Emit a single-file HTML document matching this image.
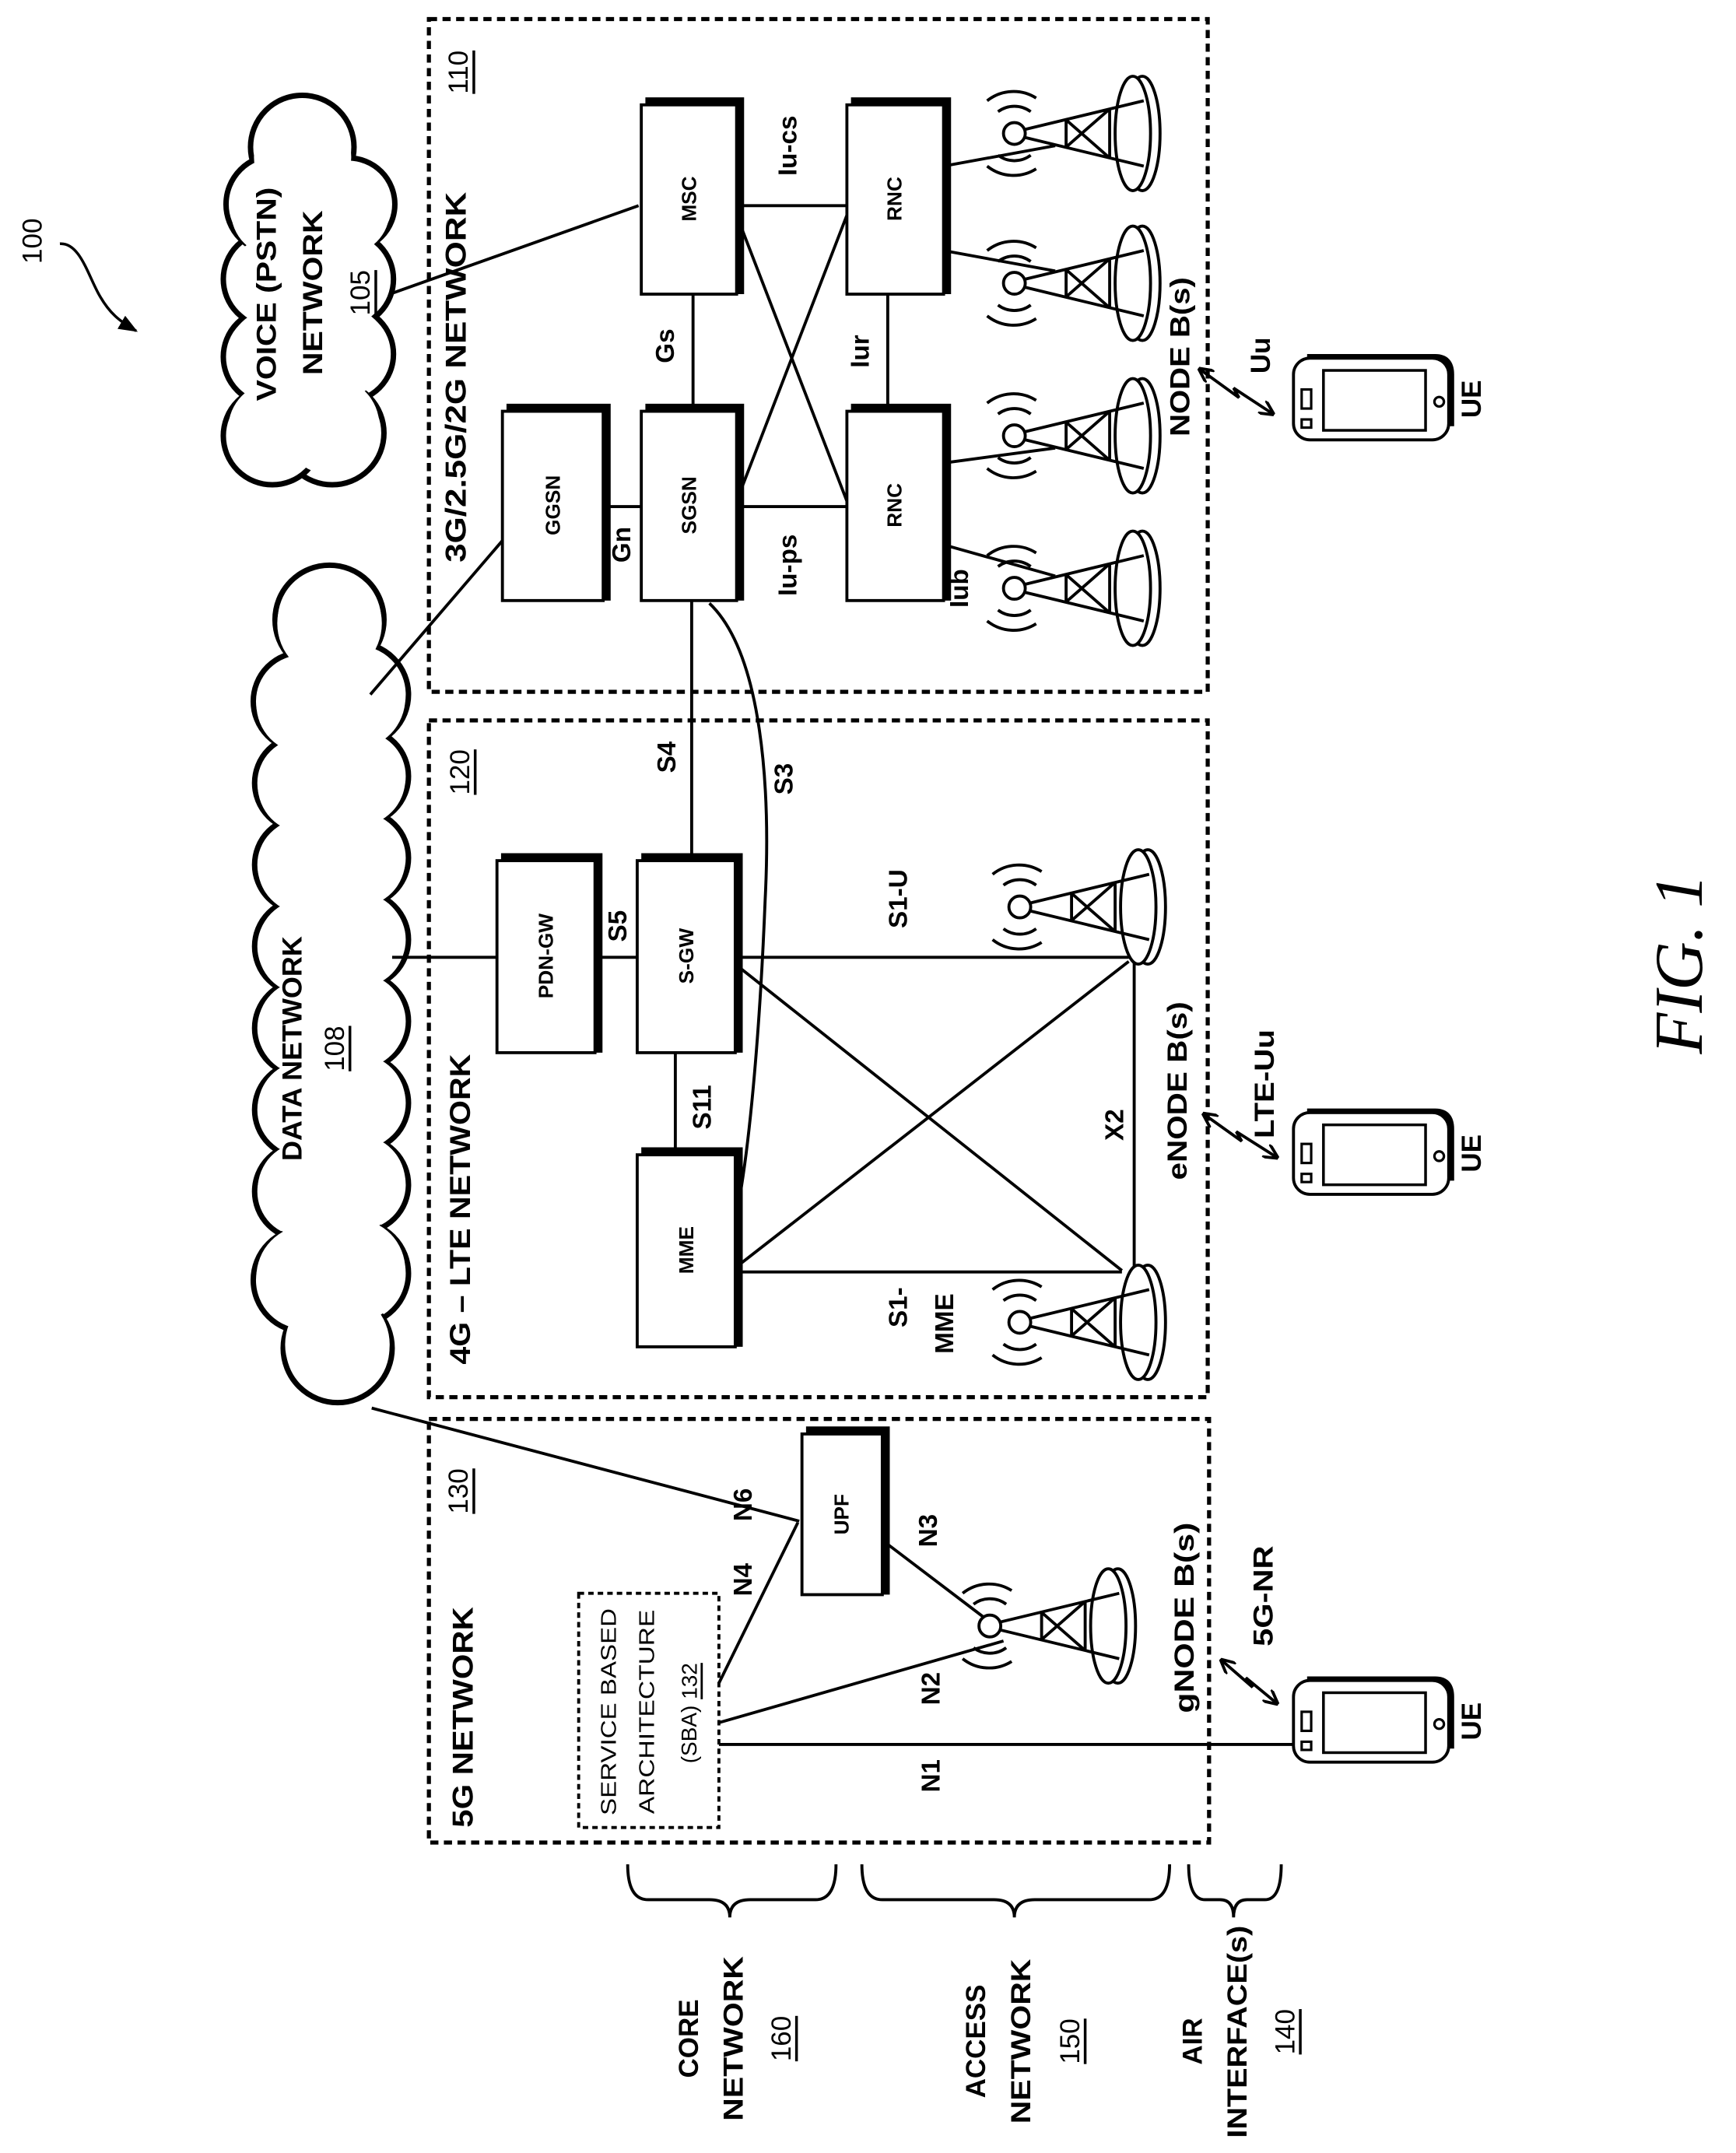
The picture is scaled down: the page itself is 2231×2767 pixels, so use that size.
<!DOCTYPE html>
<html><head><meta charset="utf-8"><style>
html,body{margin:0;padding:0;background:#fff;}
svg{display:block;}
text{font-family:"Liberation Sans",sans-serif;fill:#000;}
.b{font-weight:bold;}
</style></head><body>
<svg width="2231" height="2767" viewBox="0 0 1275 1581" preserveAspectRatio="none" xmlns="http://www.w3.org/2000/svg">
<defs>
<marker id="ah" viewBox="0 0 10 10" refX="9" refY="5" markerWidth="5" markerHeight="5" orient="auto-start-reverse"><path d="M0,0 L10,5 L0,10" fill="none" stroke="#000" stroke-width="2"/></marker>
<marker id="ah2" viewBox="0 0 10 10" refX="9" refY="5" markerWidth="7" markerHeight="7" orient="auto"><path d="M0,1 L10,5 L0,9 z" fill="#000"/></marker>
<g id="tw">
 <ellipse cx="94" cy="0" rx="13" ry="42" fill="#fff" stroke="#000" stroke-width="2.2"/>
 <ellipse cx="87" cy="0" rx="13" ry="42" fill="#fff" stroke="#000" stroke-width="2.2"/>
 <circle cx="0" cy="0" r="8" fill="#fff" stroke="#000" stroke-width="2.2"/>
 <path d="M8,-3 L95,-24 M8,3 L95,24 M38,-10 L38,10 M70,-18 L70,18 M38,-10 L70,18 M38,10 L70,-18" stroke="#000" stroke-width="2.2" fill="none"/>
 <path d="M-12,-16 A20,20 0 0 1 12,-16 M-20,-24 A31,31 0 0 1 16,-26 M-12,16 A20,20 0 0 0 12,16 M-20,24 A31,31 0 0 0 16,26" stroke="#000" stroke-width="2.2" fill="none"/>
</g>
<g id="ph">
 <rect x="0" y="0" width="114" height="60" rx="12" fill="#fff" stroke="#000" stroke-width="2.2"/>
 <path d="M10,-1 L104,-1 Q116,-1 116,12 L116,50" fill="none" stroke="#000" stroke-width="4"/>
 <rect x="22" y="9" width="75" height="44" fill="none" stroke="#000" stroke-width="2"/>
 <circle cx="107" cy="32" r="3.5" fill="none" stroke="#000" stroke-width="1.8"/>
 <rect x="6" y="23" width="7" height="14" fill="none" stroke="#000" stroke-width="1.8"/>
 <rect x="6" y="45" width="7" height="6" fill="none" stroke="#000" stroke-width="1.8"/>
</g>
<g id="vc">
<circle cx="222" cy="108" r="38"/><circle cx="256" cy="150" r="34"/><circle cx="254" cy="205" r="35"/><circle cx="254" cy="260" r="35"/><circle cx="244" cy="318" r="38"/><circle cx="200" cy="320" r="36"/><circle cx="199" cy="262" r="35"/><circle cx="199" cy="205" r="35"/><circle cx="202" cy="150" r="36"/>
</g>
<g id="dc">
<circle cx="242" cy="455" r="40"/><circle cx="262" cy="510" r="38"/><circle cx="222" cy="515" r="36"/>
<circle cx="265" cy="570" r="35"/><circle cx="265" cy="630" r="35"/><circle cx="265" cy="690" r="35"/><circle cx="265" cy="750" r="35"/><circle cx="265" cy="810" r="35"/><circle cx="265" cy="870" r="35"/><circle cx="262" cy="935" r="38"/><circle cx="248" cy="990" r="40"/>
<circle cx="222" cy="575" r="35"/><circle cx="222" cy="635" r="35"/><circle cx="222" cy="695" r="35"/><circle cx="222" cy="755" r="35"/><circle cx="222" cy="815" r="35"/><circle cx="222" cy="875" r="35"/><circle cx="224" cy="940" r="38"/>
</g>
</defs>

<!-- dashed network boxes -->
<g fill="none" stroke="#000" stroke-width="3" stroke-dasharray="6 4">
<rect x="315" y="14" width="572" height="494"/>
<rect x="315" y="529" width="572" height="497"/>
<rect x="315" y="1042" width="573" height="311"/>
<rect x="425" y="1170" width="103" height="172" stroke-width="2.2" stroke-dasharray="4 3"/>
</g>

<!-- clouds -->
<g stroke="#000" stroke-width="4" fill="#fff"><use href="#vc"/><use href="#dc"/></g>
<g fill="#fff" stroke="none">
<g transform="translate(226,230) scale(0.94) translate(-226,-230)"><use href="#vc"/></g>
<g transform="translate(243,725) scale(0.96,0.99) translate(-243,-725)"><use href="#dc"/></g>
<ellipse cx="227" cy="225" rx="42" ry="110"/>
<ellipse cx="243" cy="725" rx="34" ry="275"/>
</g>

<!-- connectors -->
<g stroke="#000" stroke-width="2.2" fill="none">
<line x1="469" y1="151" x2="289" y2="215"/>
<line x1="369" y1="397" x2="272" y2="510"/>
<line x1="541" y1="151" x2="622" y2="151"/>
<line x1="541" y1="372" x2="622" y2="372"/>
<line x1="541" y1="158" x2="622" y2="368"/>
<line x1="541" y1="368" x2="622" y2="158"/>
<line x1="509" y1="216" x2="509" y2="302"/>
<line x1="652" y1="216" x2="652" y2="302"/>
<line x1="443" y1="372" x2="471" y2="372"/>
<line x1="693" y1="122" x2="775" y2="107"/>
<line x1="693" y1="184" x2="775" y2="199"/>
<line x1="693" y1="340" x2="775" y2="329"/>
<line x1="693" y1="400" x2="775" y2="423"/>
<line x1="508" y1="441" x2="508" y2="632"/>
<path d="M521,443 C560,480 566,580 562,660 C558,760 550,850 540,896"/>
<line x1="288" y1="703" x2="365" y2="703"/>
<line x1="437" y1="703" x2="468" y2="703"/>
<line x1="496" y1="773" x2="496" y2="848"/>
<line x1="540" y1="703" x2="829" y2="703"/>
<line x1="540" y1="708" x2="824" y2="933"/>
<line x1="540" y1="931" x2="829" y2="706"/>
<line x1="540" y1="934" x2="824" y2="934"/>
<line x1="833" y1="703" x2="833" y2="934"/>
<line x1="273" y1="1034" x2="587" y2="1117"/>
<line x1="528" y1="1236" x2="586" y2="1118"/>
<line x1="648" y1="1131" x2="727" y2="1191"/>
<line x1="528" y1="1265" x2="737" y2="1205"/>
<line x1="528" y1="1281" x2="950" y2="1281"/>
</g>

<!-- shadowed node boxes -->
<g stroke="#000" fill="#fff">
<rect x="369" y="302" width="74" height="139" stroke-width="2.2"/><path d="M372,299 L446,299 L446,441" fill="none" stroke-width="5"/>
<rect x="471" y="77" width="70" height="139" stroke-width="2.2"/><path d="M474,74 L544,74 L544,216" fill="none" stroke-width="5"/>
<rect x="471" y="302" width="70" height="139" stroke-width="2.2"/><path d="M474,299 L544,299 L544,441" fill="none" stroke-width="5"/>
<rect x="622" y="77" width="71" height="139" stroke-width="2.2"/><path d="M625,74 L696,74 L696,216" fill="none" stroke-width="5"/>
<rect x="622" y="302" width="71" height="139" stroke-width="2.2"/><path d="M625,299 L696,299 L696,441" fill="none" stroke-width="5"/>
<rect x="365" y="632" width="72" height="141" stroke-width="2.2"/><path d="M368,629 L440,629 L440,773" fill="none" stroke-width="5"/>
<rect x="468" y="632" width="72" height="141" stroke-width="2.2"/><path d="M471,629 L543,629 L543,773" fill="none" stroke-width="5"/>
<rect x="468" y="848" width="72" height="141" stroke-width="2.2"/><path d="M471,845 L543,845 L543,989" fill="none" stroke-width="5"/>
<rect x="589" y="1053" width="59" height="118" stroke-width="2.2"/><path d="M592,1050 L651,1050 L651,1171" fill="none" stroke-width="5"/>
</g>

<!-- towers -->
<use href="#tw" x="745" y="98"/>
<use href="#tw" x="745" y="208"/>
<use href="#tw" x="745" y="320"/>
<use href="#tw" x="745" y="432"/>
<use href="#tw" x="749" y="666"/>
<use href="#tw" x="749" y="971"/>
<use href="#tw" x="727" y="1194"/>

<!-- phones -->
<use href="#ph" x="950" y="263"/>
<use href="#ph" x="950" y="817"/>
<use href="#ph" x="950" y="1234"/>

<!-- lightning bolts -->
<g stroke="#000" stroke-width="2.2" fill="none" marker-start="url(#ah)" marker-end="url(#ah)">
<polyline points="881,271 910,292 906,285 935,304"/>
<polyline points="884,818 912,838 908,831 938,850"/>
<polyline points="897,1219 920,1239 915,1232 938,1251"/>
</g>

<!-- 100 arrow -->
<path d="M44,179 C58,178 64,200 72,215 C80,230 88,236 100,243" fill="none" stroke="#000" stroke-width="2" marker-end="url(#ah2)"/>

<!-- braces -->
<g fill="none" stroke="#000" stroke-width="2.2">
<path d="M461,1369 Q461,1395 476,1395 L521,1395 Q536,1395 536,1408 Q536,1395 551,1395 L599,1395 Q614,1395 614,1369"/>
<path d="M633,1369 Q633,1395 648,1395 L730,1395 Q745,1395 745,1408 Q745,1395 760,1395 L844,1395 Q859,1395 859,1369"/>
<path d="M873,1369 Q873,1395 885,1395 L896,1395 Q906,1395 906,1408 Q906,1395 916,1395 L929,1395 Q941,1395 941,1369"/>
</g>

<!-- text (rotated -90) -->
<g class="b" text-anchor="middle" dominant-baseline="central">
<text transform="translate(335,277) rotate(-90)" font-size="21" textLength="272" lengthAdjust="spacingAndGlyphs">3G/2.5G/2G NETWORK</text>
<text transform="translate(338,888) rotate(-90)" font-size="21" textLength="228" lengthAdjust="spacingAndGlyphs">4G – LTE NETWORK</text>
<text transform="translate(340,1261) rotate(-90)" font-size="21" textLength="162" lengthAdjust="spacingAndGlyphs">5G NETWORK</text>
<text transform="translate(196,216) rotate(-90)" font-size="20" textLength="157" lengthAdjust="spacingAndGlyphs">VOICE (PSTN)</text>
<text transform="translate(230,215) rotate(-90)" font-size="20" textLength="121" lengthAdjust="spacingAndGlyphs">NETWORK</text>
<text transform="translate(215,770) rotate(-90)" font-size="20" textLength="165" lengthAdjust="spacingAndGlyphs">DATA NETWORK</text>
<text transform="translate(506,146) rotate(-90)" font-size="15">MSC</text>
<text transform="translate(657,146) rotate(-90)" font-size="15">RNC</text>
<text transform="translate(406,371) rotate(-90)" font-size="15">GGSN</text>
<text transform="translate(506,371) rotate(-90)" font-size="15">SGSN</text>
<text transform="translate(657,371) rotate(-90)" font-size="15">RNC</text>
<text transform="translate(401,702) rotate(-90)" font-size="15">PDN-GW</text>
<text transform="translate(504,702) rotate(-90)" font-size="15">S-GW</text>
<text transform="translate(504,918) rotate(-90)" font-size="15">MME</text>
<text transform="translate(618,1112) rotate(-90)" font-size="15">UPF</text>
<text transform="translate(579,107) rotate(-90)" font-size="19">Iu-cs</text>
<text transform="translate(489,254) rotate(-90)" font-size="19">Gs</text>
<text transform="translate(632,258) rotate(-90)" font-size="19">Iur</text>
<text transform="translate(457,400) rotate(-90)" font-size="19">Gn</text>
<text transform="translate(579,415) rotate(-90)" font-size="19">Iu-ps</text>
<text transform="translate(705,432) rotate(-90)" font-size="19">Iub</text>
<text transform="translate(490,556) rotate(-90)" font-size="19">S4</text>
<text transform="translate(576,572) rotate(-90)" font-size="19">S3</text>
<text transform="translate(454,680) rotate(-90)" font-size="19">S5</text>
<text transform="translate(516,813) rotate(-90)" font-size="19">S11</text>
<text transform="translate(660,660) rotate(-90)" font-size="19">S1-U</text>
<text transform="translate(819,826) rotate(-90)" font-size="19">X2</text>
<text transform="translate(660,960) rotate(-90)" font-size="19">S1-</text>
<text transform="translate(694,972) rotate(-90)" font-size="19">MME</text>
<text transform="translate(546,1105) rotate(-90)" font-size="19">N6</text>
<text transform="translate(546,1160) rotate(-90)" font-size="19">N4</text>
<text transform="translate(682,1124) rotate(-90)" font-size="19">N3</text>
<text transform="translate(684,1240) rotate(-90)" font-size="19">N2</text>
<text transform="translate(684,1304) rotate(-90)" font-size="19">N1</text>
<text transform="translate(867,262) rotate(-90)" font-size="20" textLength="117" lengthAdjust="spacingAndGlyphs">NODE B(s)</text>
<text transform="translate(926,261) rotate(-90)" font-size="20">Uu</text>
<text transform="translate(865,801) rotate(-90)" font-size="20" textLength="131" lengthAdjust="spacingAndGlyphs">eNODE B(s)</text>
<text transform="translate(929,796) rotate(-90)" font-size="20" textLength="80" lengthAdjust="spacingAndGlyphs">LTE-Uu</text>
<text transform="translate(870,1188) rotate(-90)" font-size="20" textLength="140" lengthAdjust="spacingAndGlyphs">gNODE B(s)</text>
<text transform="translate(928,1172) rotate(-90)" font-size="20" textLength="74" lengthAdjust="spacingAndGlyphs">5G-NR</text>
<text transform="translate(1081,293) rotate(-90)" font-size="20">UE</text>
<text transform="translate(1081,847) rotate(-90)" font-size="20">UE</text>
<text transform="translate(1081,1264) rotate(-90)" font-size="20">UE</text>
<text transform="translate(506,1497) rotate(-90)" font-size="20">CORE</text>
<text transform="translate(539,1497) rotate(-90)" font-size="20" textLength="121" lengthAdjust="spacingAndGlyphs">NETWORK</text>
<text transform="translate(717,1499) rotate(-90)" font-size="20">ACCESS</text>
<text transform="translate(750,1499) rotate(-90)" font-size="20" textLength="121" lengthAdjust="spacingAndGlyphs">NETWORK</text>
<text transform="translate(876,1499) rotate(-90)" font-size="20">AIR</text>
<text transform="translate(909,1492) rotate(-90)" font-size="20" textLength="156" lengthAdjust="spacingAndGlyphs">INTERFACE(s)</text>
</g>
<g text-anchor="middle" dominant-baseline="central">
<text transform="translate(447,1257) rotate(-90)" font-size="16" textLength="152" lengthAdjust="spacingAndGlyphs">SERVICE BASED</text>
<text transform="translate(475,1257) rotate(-90)" font-size="16" textLength="150" lengthAdjust="spacingAndGlyphs">ARCHITECTURE</text>
<text transform="translate(506,1258) rotate(-90)" font-size="16">(SBA) <tspan text-decoration="underline">132</tspan></text>
<text transform="translate(337,53) rotate(-90)" font-size="20" text-decoration="underline">110</text>
<text transform="translate(338,567) rotate(-90)" font-size="20" text-decoration="underline">120</text>
<text transform="translate(337,1095) rotate(-90)" font-size="20" text-decoration="underline">130</text>
<text transform="translate(265,215) rotate(-90)" font-size="20" text-decoration="underline">105</text>
<text transform="translate(246,770) rotate(-90)" font-size="20" text-decoration="underline">108</text>
<text transform="translate(574,1497) rotate(-90)" font-size="20" text-decoration="underline">160</text>
<text transform="translate(786,1499) rotate(-90)" font-size="20" text-decoration="underline">150</text>
<text transform="translate(944,1492) rotate(-90)" font-size="20" text-decoration="underline">140</text>
<text transform="translate(24,177) rotate(-90)" font-size="20">100</text>
<text transform="translate(1233,708) rotate(-90)" font-size="50" font-style="italic" style="font-family:'Liberation Serif',serif" textLength="132" lengthAdjust="spacingAndGlyphs">FIG. 1</text>
</g>
</svg>
</body></html>
